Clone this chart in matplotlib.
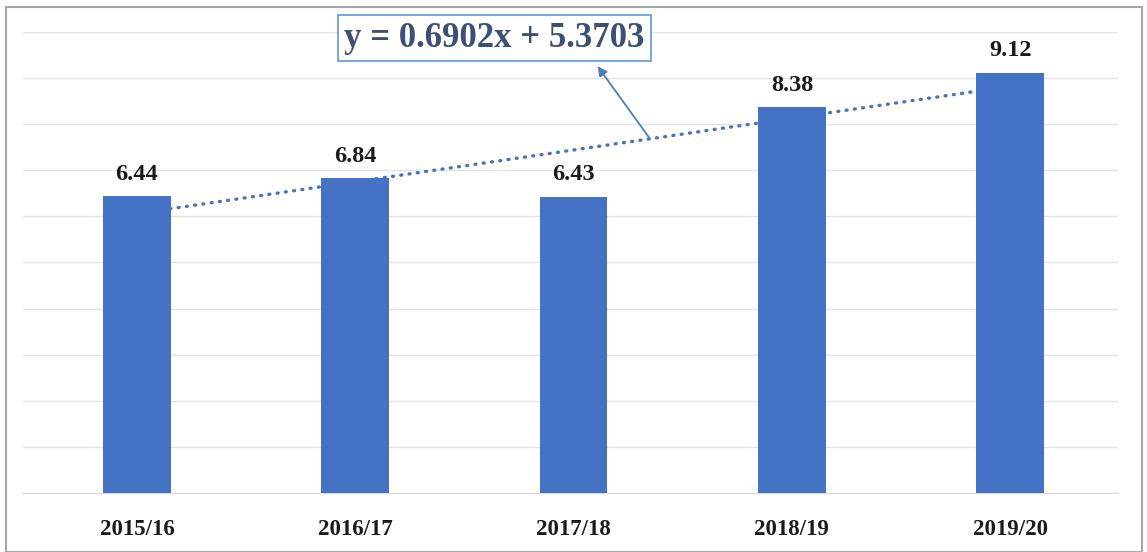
import matplotlib.pyplot as plt
from matplotlib.patches import Rectangle

# data
years = ["2015/16", "2016/17", "2017/18", "2018/19", "2019/20"]
values = [6.44, 6.84, 6.43, 8.38, 9.12]
slope = 0.6902
intercept = 5.3703

bar_col = "#4472C4"
serif = ["Liberation Serif", "DejaVu Serif"]

fig = plt.figure(figsize=(11.47, 5.52), dpi=100)
ax = fig.add_axes([0.02, 0.107, 0.955, 0.835])

xs = list(range(len(years)))

# trendline drawn behind the bars
trend = [slope * (i + 1) + intercept for i in xs]
ax.plot(xs, trend, linestyle=(0, (0.3, 2.2)), color="#4a72b8", lw=2.4,
        dash_capstyle="round", zorder=2)

bars = ax.bar(xs, values, width=0.31, color=bar_col, zorder=3)
for b, v in zip(bars, values):
    ax.annotate(f"{v:.2f}", (b.get_x() + b.get_width() / 2, v),
                xytext=(0, 8), textcoords="offset points",
                ha="center", va="bottom", fontsize=17.5, fontweight="bold",
                family=serif, color="#1a1a1a")

ax.set_xlim(-0.522, 4.495)
ax.set_ylim(0, 10)
ax.set_yticks(range(0, 11))
ax.yaxis.grid(True, color="#e3e3e3", lw=1)
ax.set_axisbelow(True)
ax.tick_params(axis="y", left=False, labelleft=False)
ax.tick_params(axis="x", length=0, pad=19)
ax.set_xticks(xs)
ax.set_xticklabels(years, fontsize=16.5, fontweight="bold", family=serif,
                   color="#1a1a1a")
for s in ["top", "right", "left"]:
    ax.spines[s].set_visible(False)
ax.spines["bottom"].set_color("#d9d9d9")

# equation box and arrow
fig.text(0.431, 0.931, f"y = {slope}x + {intercept}", ha="center", va="center",
         fontsize=25, fontweight="bold", family=serif, color="#3d4f72",
         bbox=dict(boxstyle="square,pad=0.18", fc="white", ec="#5b9bd5", lw=1.2))
tx = 2.35
ax.annotate("", xy=(0.521, 0.880), xycoords="figure fraction",
            xytext=(tx, slope * (tx + 1) + intercept), textcoords="data",
            arrowprops=dict(arrowstyle="-|>", color="#4a7ebb", lw=1.3,
                            mutation_scale=14, shrinkA=0, shrinkB=0))

# outer frame
fig.patches.append(Rectangle((0.005, 0.0), 0.991, 0.988, transform=fig.transFigure,
                             fill=False, ec="#a6a6a6", lw=1.5))

fig.savefig("out.png", dpi=100)
